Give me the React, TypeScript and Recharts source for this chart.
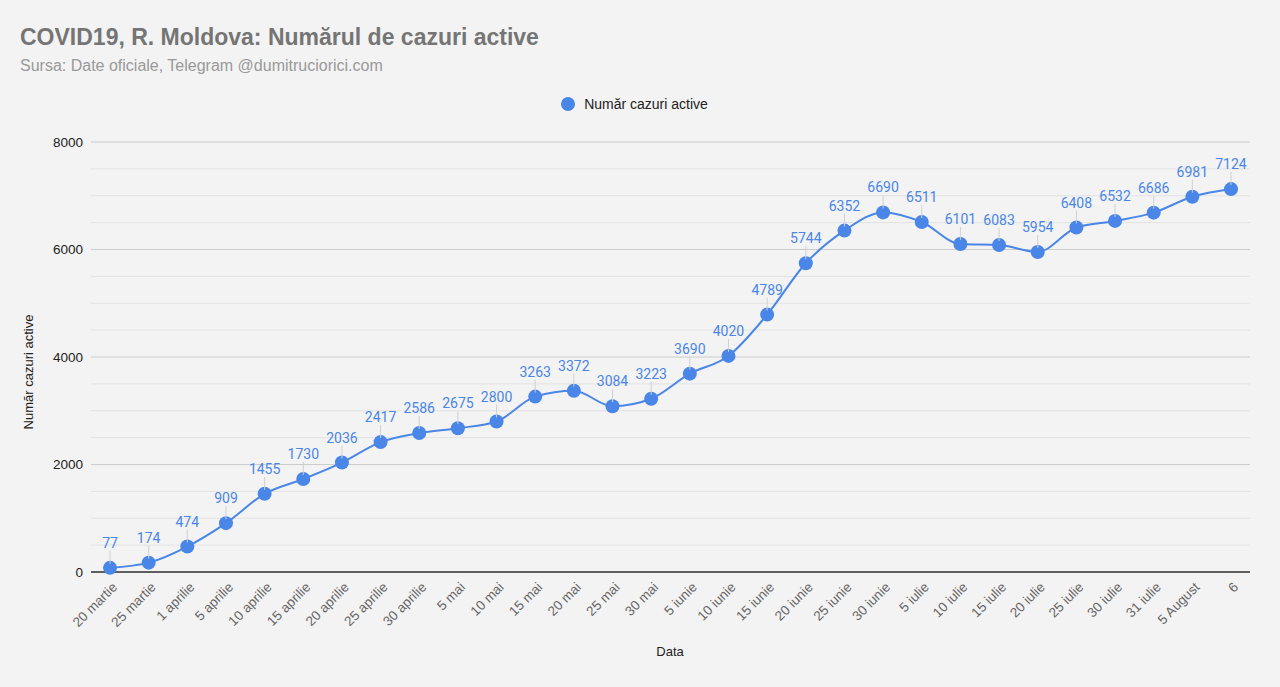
import React from "react";
import {
  LineChart,
  Line,
  XAxis,
  YAxis,
  CartesianGrid,
  Legend,
  LabelList,
  ReferenceLine,
} from "recharts";

const dates = [
  "20 martie", "25 martie", "1 aprilie", "5 aprilie", "10 aprilie", "15 aprilie",
  "20 aprilie", "25 aprilie", "30 aprilie", "5 mai", "10 mai", "15 mai", "20 mai",
  "25 mai", "30 mai", "5 iunie", "10 iunie", "15 iunie", "20 iunie", "25 iunie",
  "30 iunie", "5 iulie", "10 iulie", "15 iulie", "20 iulie", "25 iulie", "30 iulie",
  "31 iulie", "5 August", "6",
];
const activeCases = [
  77, 174, 474, 909, 1455, 1730, 2036, 2417, 2586, 2675, 2800, 3263, 3372, 3084,
  3223, 3690, 4020, 4789, 5744, 6352, 6690, 6511, 6101, 6083, 5954, 6408, 6532,
  6686, 6981, 7124,
];
const yTicks = [0, 2000, 4000, 6000, 8000];
const minorTicks = [500, 1000, 1500, 2500, 3000, 3500, 4500, 5000, 5500, 6500, 7000, 7500];

const data = dates.map((d, i) => ({ date: d, cases: activeCases[i] }));

const BLUE = "#4a86e8";
const SANS = "Arial, 'Liberation Sans', Helvetica, sans-serif";

const DateTick = (props: any) => {
  const { x, y, payload } = props;
  return (
    <g transform={`translate(${x + 8},${y + 8}) rotate(-45)`}>
      <text x={0} y={0} textAnchor="end" fill="#666" fontSize={13.5} fontFamily={SANS}>
        {payload.value}
      </text>
    </g>
  );
};

const PointLabel = (props: any) => {
  const { x, y, value } = props;
  return (
    <g>
      <line x1={x} y1={y - 4} x2={x} y2={y - 17} stroke="#d0d0d0" strokeWidth={1} />
      <text x={x} y={y - 20} textAnchor="middle" fill={BLUE} fontSize={14} fontFamily="Roboto, sans-serif">
        {value}
      </text>
    </g>
  );
};

const LegendContent = (props: any) => {
  const items = props.payload || [];
  return (
    <div style={{ display: "flex", justifyContent: "center", alignItems: "center", height: 16, paddingLeft: 8 }}>
      {items.map((it: any) => (
        <div key={it.value} style={{ display: "flex", alignItems: "center" }}>
          <span style={{ width: 14, height: 14, borderRadius: 7, background: it.color, display: "inline-block", marginRight: 9 }} />
          <span style={{ color: "#222", fontSize: 14, fontFamily: SANS }}>{it.value}</span>
        </div>
      ))}
    </div>
  );
};

export default function App() {
  return (
    <div style={{ position: "absolute", left: 0, top: 0, width: 1280, height: 687, background: "#f3f3f3", fontFamily: SANS }}>
      <div style={{ position: "absolute", left: 20, top: 24, fontSize: 23, fontWeight: "bold", color: "#757575" }}>
        COVID19, R. Moldova: Numărul de cazuri active
      </div>
      <div style={{ position: "absolute", left: 20, top: 57, fontSize: 16, color: "#999" }}>
        Sursa: Date oficiale, Telegram @dumitruciorici.com
      </div>
      <div
        style={{
          position: "absolute",
          left: 28,
          top: 372,
          transform: "translate(-50%, -50%) rotate(-90deg)",
          fontSize: 13,
          color: "#222",
          whiteSpace: "nowrap",
        }}
      >
        Număr cazuri active
      </div>
      <div style={{ position: "absolute", left: 670, top: 651, transform: "translate(-50%, -50%)", fontSize: 13, color: "#222" }}>
        Data
      </div>
      <LineChart
        width={1280}
        height={687}
        data={data}
        margin={{ top: 126, right: 30, bottom: 35, left: 11 }}
        style={{ position: "absolute", left: 0, top: 0 }}
      >
        <CartesianGrid vertical={false} stroke="#cccccc" />
        {minorTicks.map((v) => (
          <ReferenceLine key={v} y={v} stroke="#e2e2e2" strokeWidth={1} />
        ))}
        <XAxis
          dataKey="date"
          interval={0}
          height={80}
          padding={{ left: 19, right: 19 }}
          tickLine={false}
          axisLine={{ stroke: "#333", strokeWidth: 1.5 }}
          tick={<DateTick />}
        />
        <YAxis
          width={80}
          domain={[0, 8000]}
          ticks={yTicks}
          axisLine={false}
          tickLine={false}
          tick={{ fill: "#222", fontSize: 13.5, fontFamily: SANS }}
        />
        <Legend
          verticalAlign="top"
          wrapperStyle={{ top: 96 }}
          content={<LegendContent />}
        />
        <Line
          type="monotone"
          dataKey="cases"
          name="Număr cazuri active"
          stroke={BLUE}
          strokeWidth={2}
          dot={{ r: 7, fill: BLUE, stroke: BLUE, strokeWidth: 0 }}
          activeDot={false}
          isAnimationActive={false}
        >
          <LabelList dataKey="cases" content={<PointLabel />} />
        </Line>
      </LineChart>
    </div>
  );
}
